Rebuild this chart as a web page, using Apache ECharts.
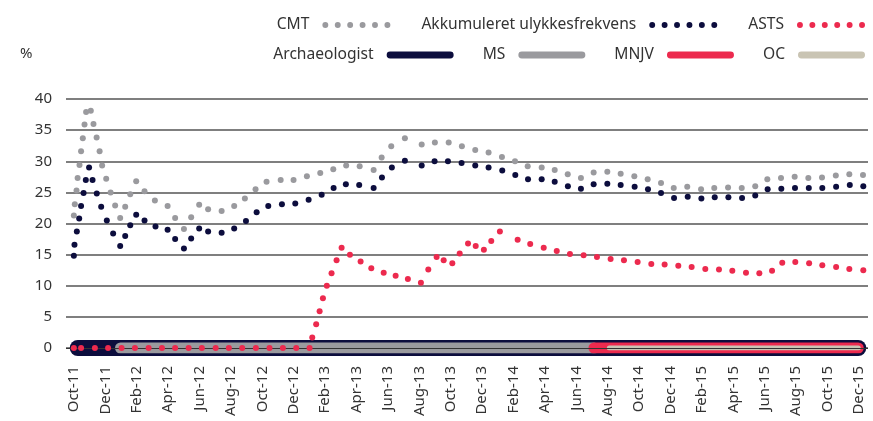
<!DOCTYPE html>
<html>
<head>
<meta charset="utf-8">
<script src="https://cdn.jsdelivr.net/npm/echarts@6/dist/echarts.min.js"></script>
<style>
  html, body { margin: 0; padding: 0; background: #fff; }
  #chart { width: 873px; height: 421px; }
</style>
</head>
<body>
<div id="chart"></div>
<script>
// x positions are months after Oct-11 (0 = Oct-11, 50 = Dec-15)
const monthLabels = ["Oct-11", "Dec-11", "Feb-12", "Apr-12", "Jun-12", "Aug-12", "Oct-12", "Dec-12",
  "Feb-13", "Apr-13", "Jun-13", "Aug-13", "Oct-13", "Dec-13", "Feb-14", "Apr-14", "Jun-14",
  "Aug-14", "Oct-14", "Dec-14", "Feb-15", "Apr-15", "Jun-15", "Aug-15", "Oct-15", "Dec-15"];

const cmtX = [0, 0.06, 0.17, 0.24, 0.36, 0.46, 0.57, 0.68, 0.78, 0.96, 1.08, 1.25, 1.45, 1.64, 1.8, 2.06,
  2.34, 2.63, 2.95, 3.27, 3.59, 3.97, 4.5, 5.16, 5.97, 6.45, 7.01, 7.47, 7.98, 8.55, 9.41, 10.21,
  10.89, 11.57, 12.27, 13.17, 13.99, 14.84, 15.69, 16.52, 17.34, 18.2, 19.09, 19.6, 20.21, 21.08,
  22.15, 22.99, 23.87, 24.71, 25.56, 26.41, 27.26, 28.09, 28.9, 29.79, 30.62, 31.45, 32.29, 33.1,
  33.97, 34.82, 35.69, 36.54, 37.39, 38.2, 39.06, 39.94, 40.78, 41.66, 42.53, 43.39, 44.16, 45.03,
  45.9, 46.77, 47.64, 48.52, 49.38, 50.25];
const cmtY = [21.3, 23.1, 25.3, 27.3, 29.4, 31.6, 33.7, 35.9, 37.9, 40.1, 38.1, 36.0, 33.8, 31.6, 29.3, 27.2,
  25.0, 22.9, 20.9, 22.7, 24.7, 26.8, 25.2, 23.7, 22.8, 20.9, 19.1, 21.0, 23.0, 22.3, 22.0, 22.8,
  24.0, 25.5, 26.7, 27.0, 27.0, 27.6, 28.1, 28.7, 29.3, 29.2, 28.6, 30.6, 32.4, 33.7,
  32.7, 33.0, 33.0, 32.4, 31.8, 31.4, 30.7, 30.0, 29.2, 29.0, 28.6, 27.9, 27.3, 28.2,
  28.3, 28.0, 27.6, 27.1, 26.5, 25.7, 25.9, 25.5, 25.7, 25.8, 25.7, 26.0, 27.1, 27.3,
  27.5, 27.3, 27.4, 27.7, 27.9, 27.8];

const akkX = [0, 0.04, 0.19, 0.34, 0.46, 0.62, 0.76, 0.97, 1.19, 1.46, 1.74, 2.1, 2.5, 2.95, 3.27, 3.59,
  3.97, 4.5, 5.2, 5.97, 6.45, 7.01, 7.47, 7.98, 8.55, 9.41, 10.21, 10.96, 11.64, 12.38, 13.25,
  14.1, 14.95, 15.78, 16.54, 17.32, 18.17, 19.09, 19.62, 20.25, 21.08, 22.15, 22.97, 23.82, 24.69,
  25.56, 26.41, 27.28, 28.11, 28.92, 29.79, 30.62, 31.46, 32.29, 33.1, 33.97, 34.82, 35.71, 36.56,
  37.39, 38.22, 39.09, 39.96, 40.81, 41.68, 42.55, 43.39, 44.18, 45.05, 45.92, 46.8, 47.66, 48.54,
  49.41, 50.27];
const akkY = [14.8, 16.6, 18.7, 20.8, 22.8, 24.9, 27.0, 29.0, 27.0, 24.8, 22.7, 20.5, 18.4, 16.4, 18.0, 19.7,
  21.4, 20.5, 19.5, 19.0, 17.5, 16.0, 17.6, 19.2, 18.7, 18.5, 19.2, 20.4, 21.8, 22.8, 23.1,
  23.2, 23.8, 24.6, 25.7, 26.3, 26.2, 25.7, 27.4, 29.0, 30.1, 29.3, 30.0, 30.0, 29.7,
  29.3, 29.0, 28.5, 27.8, 27.1, 27.1, 26.7, 26.0, 25.6, 26.3, 26.4, 26.2, 25.9, 25.5,
  24.9, 24.1, 24.3, 24.0, 24.2, 24.2, 24.1, 24.5, 25.5, 25.6, 25.7, 25.7, 25.7, 25.9,
  26.2, 26.0];

const astsX = [0, 0.46, 1.34, 2.18, 3.04, 3.89, 4.76, 5.61, 6.45, 7.31, 8.15, 9.03, 9.87, 10.72, 11.59,
  12.46, 13.31, 14.16, 15.01, 15.18, 15.43, 15.65, 15.86, 16.11, 16.41, 16.73, 17.05, 17.58, 18.26,
  18.94, 19.73, 20.49, 21.27, 22.1, 22.57, 23.1, 23.55, 24.1, 24.57, 25.1, 25.59, 26.11, 26.58,
  27.13, 28.26, 29.06, 29.92, 30.75, 31.59, 32.46, 33.31, 34.18, 35.03, 35.9, 36.77, 37.62, 38.49,
  39.34, 40.21, 41.08, 41.93, 42.8, 43.65, 44.46, 45.11, 45.94, 46.82, 47.66, 48.54, 49.38, 50.27];
const astsY = [0, 0, 0, 0, 0, 0, 0, 0, 0, 0, 0, 0, 0, 0, 0,
  0, 0, 0, 0, 1.7, 3.8, 5.9, 8.0, 10.0, 12.0, 14.1, 16.1, 15.0, 13.9,
  12.8, 12.1, 11.6, 11.1, 10.5, 12.6, 14.6, 14.1, 13.6, 15.2, 16.8, 16.4, 15.8, 17.2,
  18.7, 17.4, 16.7, 16.1, 15.6, 15.1, 14.9, 14.6, 14.3, 14.1, 13.8, 13.5, 13.4, 13.2,
  13.0, 12.7, 12.6, 12.4, 12.1, 12.0, 12.4, 13.7, 13.8, 13.6, 13.3, 13.0, 12.7, 12.5];

// periods drawn as thick bars on the zero line: [start, end] in months
const archaeologistSpan = [0.25, 49.95];
const msSpan = [2.97, 33.12];
const mnjvSpan = [33.12, 49.95];
const ocSpan = [34.1, 49.95];

const NAVY = "#0c0d3d";
const GREY = "#9a9a9e";
const RED = "#ec2a4e";
const BEIGE = "#c9c4b3";
const TEXT = "#333333";
const FONT = "Noto Sans";

const zip = (xs, ys) => xs.map((x, i) => [x, ys[i]]);
const span = (s) => [[s[0], 0], [s[1], 0]];

// six dots / capsule legend icons
let dotPath = "path://";
for (let i = 0; i < 6; i++) {
  const cx = 3 + i * 12.6;
  dotPath += "M" + (cx - 3) + ",3a3,3 0 1,0 6,0a3,3 0 1,0 -6,0";
}
const barPath = "path://M3.5,0H64.5A3.5,3.5 0 0 1 64.5,7H3.5A3.5,3.5 0 0 1 3.5,0Z";

function bandSeries(name, s, color, width) {
  return {
    name: name,
    type: "line",
    data: span(s),
    symbol: "none",
    silent: true,
    z: 2,
    lineStyle: { color: color, width: width, cap: "round" },
    itemStyle: { color: color },
  };
}

function dotSeries(name, xs, ys, color) {
  return {
    name: name,
    type: "scatter",
    data: zip(xs, ys),
    symbolSize: 6,
    z: 6,
    itemStyle: { color: color, opacity: 1 },
  };
}

const chart = echarts.init(document.getElementById("chart"));

const ocBand = bandSeries("OC", ocSpan, BEIGE, 5);
ocBand.markLine = {
  silent: true,
  symbol: "none",
  label: { show: false },
  lineStyle: { color: "#333", width: 1, type: "solid" },
  data: [{ yAxis: 0 }],
};

const option = {
  animation: false,
  textStyle: { fontFamily: FONT },
  title: {
    text: "%",
    left: 15,
    top: 41,
    textStyle: { fontFamily: FONT, fontSize: 15, fontWeight: "normal", color: TEXT },
  },
  legend: [
    {
      right: 3,
      top: 12,
      align: "right",
      itemWidth: 68,
      itemHeight: 6,
      itemGap: 31,
      textStyle: { fontFamily: FONT, fontSize: 15.6, color: TEXT, padding: [0, 8, 0, 0] },
      data: [
        { name: "CMT", icon: dotPath },
        { name: "Akkumuleret ulykkesfrekvens", icon: dotPath },
        { name: "ASTS", icon: dotPath },
      ],
    },
    {
      right: 3,
      top: 42,
      align: "right",
      itemWidth: 67,
      itemHeight: 7,
      itemGap: 29,
      textStyle: { fontFamily: FONT, fontSize: 15.6, color: TEXT, padding: [0, 8, 0, 0] },
      data: [
        { name: "Archaeologist", icon: barPath },
        { name: "MS", icon: barPath },
        { name: "MNJV", icon: barPath },
        { name: "OC", icon: barPath },
      ],
    },
  ],
  grid: { left: 66, right: 5, top: 99, bottom: 73 },
  xAxis: {
    type: "value",
    min: -0.5,
    max: 50.57,
    axisLine: { show: false },
    axisTick: { show: false },
    splitLine: { show: false },
    axisLabel: {
      customValues: monthLabels.map((l, i) => i * 2),
      formatter: (v) => monthLabels[Math.round(v / 2)],
      rotate: 90,
      margin: 18,
      fontFamily: FONT,
      fontSize: 15,
      color: TEXT,
    },
  },
  yAxis: {
    type: "value",
    min: 0,
    max: 40,
    interval: 5,
    axisLine: { show: false },
    axisTick: { show: false },
    axisLabel: { margin: 14, fontFamily: FONT, fontSize: 15, color: TEXT },
    splitLine: { lineStyle: { color: "#555", width: 1.5 } },
  },
  series: [
    bandSeries("Archaeologist", archaeologistSpan, NAVY, 16),
    bandSeries("MS", msSpan, GREY, 11),
    bandSeries("MNJV", mnjvSpan, RED, 11),
    ocBand,
    dotSeries("CMT", cmtX, cmtY, GREY),
    dotSeries("Akkumuleret ulykkesfrekvens", akkX, akkY, NAVY),
    dotSeries("ASTS", astsX, astsY, RED),
  ],
};

chart.setOption(option);
</script>
</body>
</html>
